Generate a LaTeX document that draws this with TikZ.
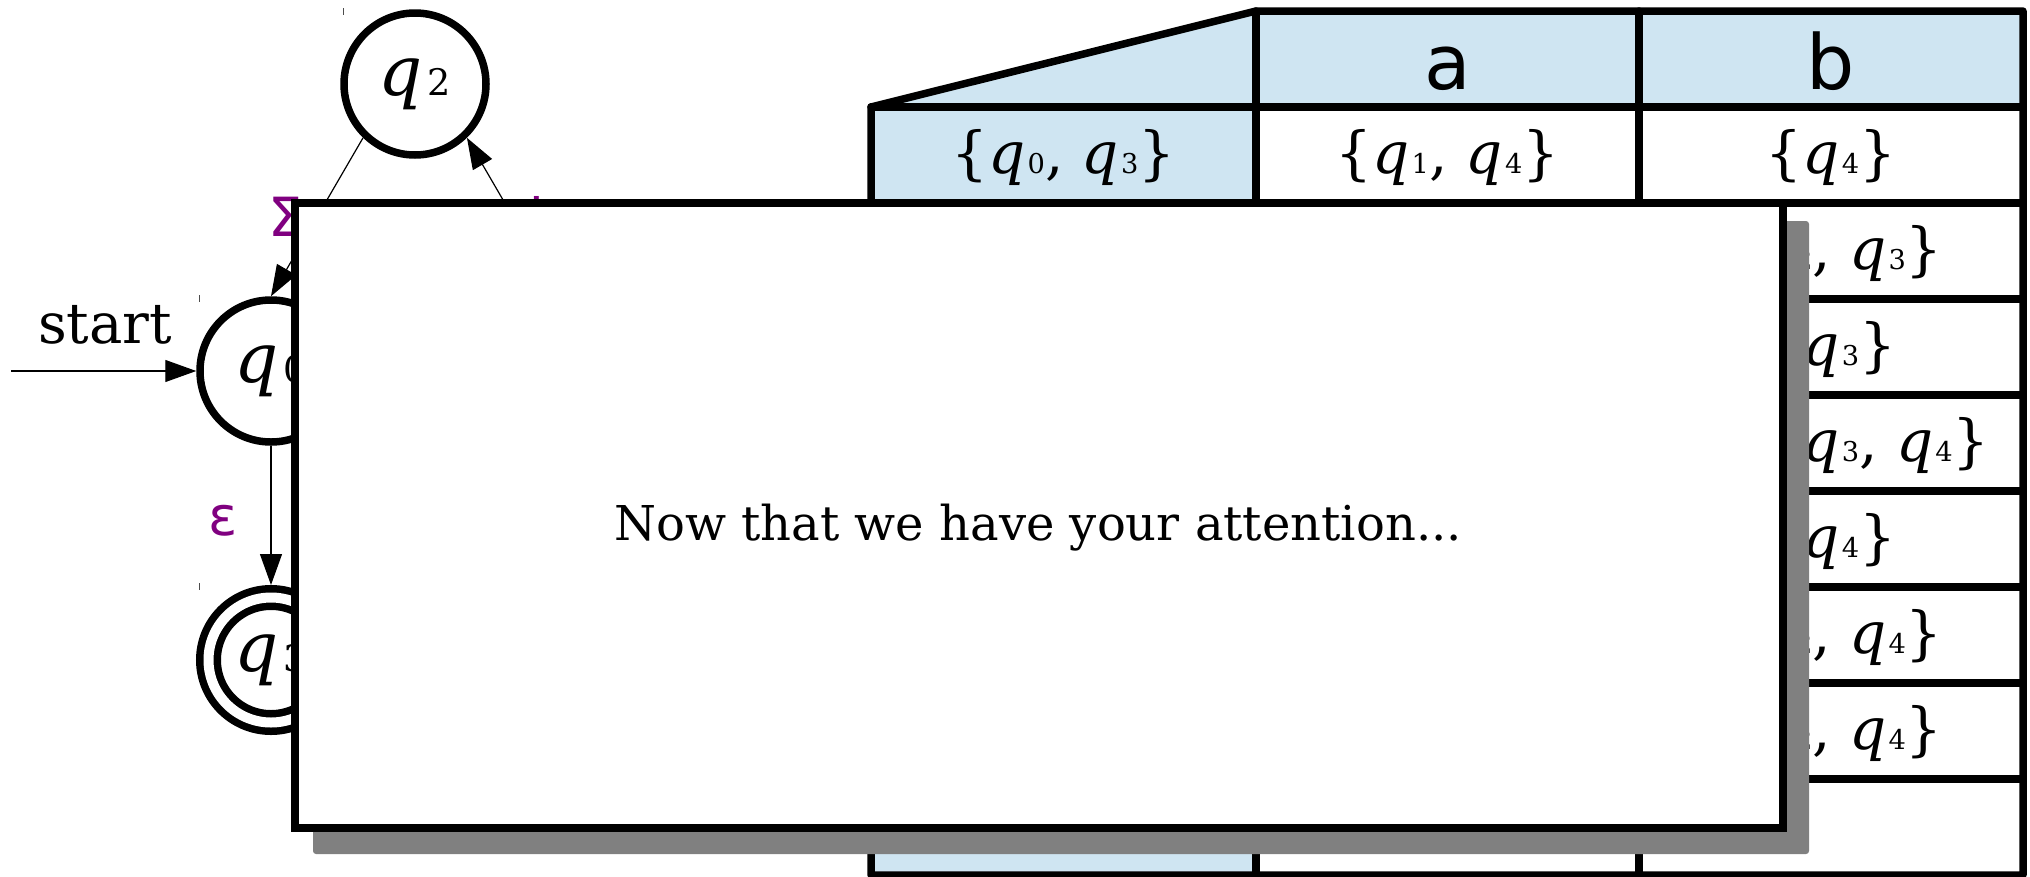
\documentclass[tikz,border=0pt]{standalone}
\usepackage{fontspec}
\setmainfont{DejaVu Serif}
\newfontfamily\sansf{DejaVu Sans}
\usepackage{graphicx}
\usetikzlibrary{arrows.meta}
\definecolor{hdr}{RGB}{207,229,242}
\definecolor{lbl}{RGB}{128,0,128}
\definecolor{shadowgray}{RGB}{128,128,128}
\newcommand{\qi}[1]{\textit{q}\kern2pt\scalebox{0.47}{#1}}
\newcommand{\qs}[1]{\textit{q}\kern5pt\scalebox{0.53}{#1}}
\tikzset{
  state/.style={circle, draw, line width=7.5pt, minimum size=142pt, inner sep=0pt, outer sep=3.75pt, font=\fontsize{69}{69}\selectfont},
  accept/.style={circle, draw, line width=7.5pt, double=white, double distance=10pt, minimum size=125pt, inner sep=0pt, outer sep=12.5pt, font=\fontsize{69}{69}\selectfont},
  edge/.style={line width=1.2pt, -{Triangle[length=31pt,width=22pt]}},
  elabel/.style={text=lbl, font=\sansf\fontsize{54}{54}\selectfont, inner sep=0pt},
  cell/.style={font=\fontsize{58}{58}\selectfont, inner sep=0pt, anchor=base},
  head/.style={font=\sansf\fontsize{76}{76}\selectfont, inner sep=0pt, anchor=base},
  gridline/.style={line width=7.5pt, line join=round, line cap=round},
  tick/.style={line width=1pt, black!70},
}
\begin{document}
\begin{tikzpicture}[x=1pt,y=-1pt]
\useasboundingbox (0,0) rectangle (2030,876);
% ---------- table ----------
\fill[hdr] (871,107) -- (1256,11) -- (2023,11) -- (2023,107) -- cycle;
\fill[hdr] (871,107) rectangle (1256,875);
\draw[gridline] (871,107) -- (1256,11) -- (2023,11) -- (2023,875) -- (871,875) -- cycle;
\foreach \yy in {107,203,299,395,491,587,683,779}
  \draw[gridline] (871,\yy) -- (2023,\yy);
\draw[gridline] (1256,11) -- (1256,875);
\draw[gridline] (1639,11) -- (1639,875);
\node[head] (ha) at (1447.5,89) {a};
\node[head] (hb) at (1831,89) {b};
\node[cell] (r1c1) at (1063.5,173) {\{\qi{0}, \qi{3}\}};
\node[cell] (r1c2) at (1447.5,173) {\{\qi{1}, \qi{4}\}};
\node[cell] (r1c3) at (1831,173) {\{\qi{4}\}};
\node[cell] (r2c3) at (1831,269) {\{\qi{2}, \qi{3}\}};
\node[cell] (r3c3) at (1831,365) {\{\qi{3}\}};
\node[cell] (r4c3) at (1831,461) {\{\qi{1}, \qi{3}, \qi{4}\}};
\node[cell] (r5c3) at (1831,557) {\{\qi{4}\}};
\node[cell] (r6c3) at (1831,653) {\{\qi{2}, \qi{4}\}};
\node[cell] (r7c3) at (1831,749) {\{\qi{2}, \qi{4}\}};
% ---------- automaton ----------
\node[state] (q2) at (415,84) {\qs{2}};
\node[state] (q0) at (271,371) {\qs{0}};
\node[state] (q1) at (559,371) {\qs{1}};
\node[accept] (q3) at (271,660) {\qs{3}};
\coordinate (st) at (11,371);
\node[font=\fontsize{56}{56}\selectfont, anchor=base, inner sep=0pt] (startlbl) at (105,343) {start};
\draw[edge] (st) -- (q0.west);
\draw[edge] (q2.226) -- (q0.north) node[pos=0.5, elabel, anchor=east, xshift=-14pt] {Σ};
\draw[edge] (q1.north) -- (q2.314) node[pos=0.5, elabel, anchor=west, xshift=16pt] {b};
\draw[edge] (q0.south) -- (q3.north) node[pos=0.5, elabel, anchor=east, xshift=-33pt, yshift=-5pt] {ε};
\draw[tick] (343,8) -- (343,15);
\draw[tick] (199,295) -- (199,302);
\draw[tick] (199,583) -- (199,590);
% ---------- overlay ----------
\fill[shadowgray, rounded corners=3pt] (313,221) rectangle (1809,854);
\node[draw, fill=white, line width=8pt, minimum width=1488pt, minimum height=625pt, inner sep=0pt] (box) at (1039,515.5) {};
\node[font=\fontsize{48}{48}\selectfont, anchor=base, inner sep=0pt] (msg) at (1038,540) {Now that we have your attention...};
\end{tikzpicture}
\end{document}
